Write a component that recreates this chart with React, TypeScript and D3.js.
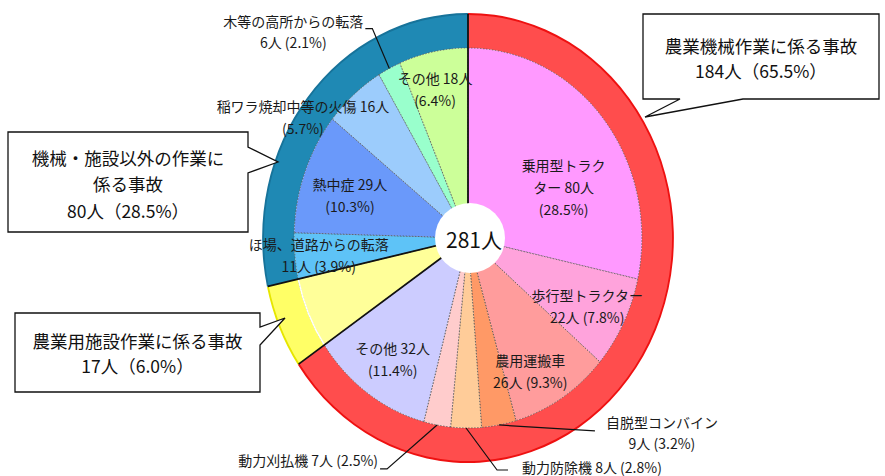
import React from 'react';
import * as d3 from 'd3';

// ---------------- data ----------------
const TOTAL = 281;
const groupNames = ['農業機械作業に係る事故', '農業用施設作業に係る事故', '機械・施設以外の作業に係る事故'];
const groupCounts = [184, 17, 80];
const groupColors = ['#FF4D4D', '#FFFF66', '#1F89B4'];
const groupEdge = ['#EE1111', '#E6E600', '#17739A'];

const sliceNames = [
  '乗用型トラクター', '歩行型トラクター', '農用運搬車', '自脱型コンバイン', '動力防除機', '動力刈払機', 'その他',
  '農業用施設作業',
  'ほ場、道路からの転落', '熱中症', '稲ワラ焼却中等の火傷', '木等の高所からの転落', 'その他',
];
const sliceCounts = [80, 22, 26, 9, 8, 7, 32, 17, 11, 29, 16, 6, 18];
const sliceColors = [
  '#FF99FF', '#FFA3DC', '#FF9C9C', '#FF9966', '#FFCC99', '#FFCCCC', '#CCCCFF',
  '#FFFF99',
  '#5EC3F7', '#6A99FA', '#9CCCFC', '#99FFCC', '#CCFF99',
];
// label lines: {n} = count, {p} = percent
const sliceLabels = [
  ['乗用型トラク', 'ター {n}人', '({p}%)'],
  ['歩行型トラクター', '{n}人 ({p}%)'],
  ['農用運搬車', '{n}人 ({p}%)'],
  ['自脱型コンバイン', '{n}人 ({p}%)'],
  ['動力防除機 {n}人 ({p}%)'],
  ['動力刈払機 {n}人 ({p}%)'],
  ['その他 {n}人', '({p}%)'],
  [],
  ['ほ場、道路からの転落', '{n}人 ({p}%)'],
  ['熱中症 {n}人', '({p}%)'],
  ['稲ワラ焼却中等の火傷 {n}人', '({p}%)'],
  ['木等の高所からの転落', '{n}人 ({p}%)'],
  ['その他 {n}人', '({p}%)'],
];

// ---------------- layout ----------------
const W = 885, H = 476;
const CX = 468, CY = 238;
const SX = 0.915;           // horizontal squash of the pie
const R_OUT = 224, R_IN = 190, R_LABEL = 120, R_HOLE = 35;
const LABEL_FS = 14;

// inner label nudges (px, relative to centroid at R_LABEL)
const innerNudge: Record<number, [number, number]> = {
  0: [10, 24], 1: [21, 14], 2: [3, 32], 6: [-12, 23],
  8: [-40, 6], 9: [-15, -2], 10: [-93, -30], 12: [-11, -31],
};
// leader-labelled slices: elbow/end offsets from start (at R_IN), text placement relative to end
const leaders: Record<number, { elbow: [number, number]; end: [number, number]; tx: number; ty: number; anchor: string; lh: number }> = {
  11: { elbow: [-17, -40], end: [-24, -40], tx: -72, ty: -8, anchor: 'middle', lh: 21 },
  3: { elbow: [96, 6], end: [96, 6], tx: 67, ty: -9, anchor: 'middle', lh: 21 },
  4: { elbow: [31, 42], end: [42, 42], tx: 14, ty: -3, anchor: 'start', lh: 21 },
  5: { elbow: [-50, 44], end: [-57, 44], tx: -2, ty: -9, anchor: 'end', lh: 21 },
};
// callouts: box [x0,y0,x1,y1], pointer edge & base & tip
const callouts = [
  { g: 0, box: [643, 14, 879, 99], edge: 'bottom', base: [743, 680], tip: [645, 117], ty: [45, 70] },
  { g: 2, box: [8, 132, 248, 232], edge: 'right', base: [147, 173], tip: [278, 162], ty: [157, 183, 210] },
  { g: 1, box: [15, 313, 260, 392], edge: 'right', base: [327, 345], tip: [285, 318], ty: [340, 365] },
];
const calloutText: string[][] = [
  ['農業機械作業に係る事故', '{n}人（{p}%）'],
  ['農業用施設作業に係る事故', '{n}人（{p}%）'],
  ['機械・施設以外の作業に', '係る事故', '{n}人（{p}%）'],
];

const FONT = '"Noto Sans CJK JP", "Noto Sans", sans-serif';

const fill = (s: string, n: number) =>
  s.replace('{n}', String(n)).replace('{p}', ((n / TOTAL) * 100).toFixed(1));

const polar = (a: number, r: number): [number, number] => [CX + SX * r * Math.sin(a), CY - r * Math.cos(a)];

export default function App() {
  const pie = d3.pie<number>().sort(null).value((d) => d);
  const slices = pie(sliceCounts);
  const groups = pie(groupCounts);
  const innerArc = d3.arc<d3.PieArcDatum<number>>().innerRadius(0).outerRadius(R_IN);
  const ringArc = d3.arc<d3.PieArcDatum<number>>().innerRadius(R_IN).outerRadius(R_OUT);
  const outerEdge = d3.arc<d3.PieArcDatum<number>>().innerRadius(R_OUT - 1).outerRadius(R_OUT + 1);

  const boundaryAngles = groups.map((g) => g.startAngle);
  const yellowInner = d3.arc()({
    innerRadius: R_IN - 0.8, outerRadius: R_IN + 0.8,
    startAngle: groups[1].startAngle, endAngle: groups[1].endAngle,
  } as any);

  const calloutPath = (c: any) => {
    const [x0, y0, x1, y1] = c.box;
    if (c.edge === 'bottom') {
      return `M${x0},${y0}H${x1}V${y1}H${c.base[0]}L${c.tip[0]},${c.tip[1]}L${c.base[1]},${y1}H${x0}Z`;
    }
    return `M${x0},${y0}H${x1}V${c.base[0]}L${c.tip[0]},${c.tip[1]}L${x1},${c.base[1]}V${y1}H${x0}Z`;
  };

  return (
    <svg width={W} height={H} style={{ position: 'absolute', left: 0, top: 0, background: '#fff' }} fontFamily={FONT}>
      <rect width={W} height={H} fill="#fff" />
      <g transform={`translate(${CX},${CY}) scale(${SX},1)`}>
        {groups.map((g, i) => (
          <path key={'r' + i} d={ringArc(g) || ''} fill={groupColors[i]} />
        ))}
        {groups.map((g, i) => (
          <path key={'e' + i} d={outerEdge(g) || ''} fill={groupEdge[i]} />
        ))}
        {slices.map((s, i) => (
          <path key={'s' + i} d={innerArc(s) || ''} fill={sliceColors[i]}
            stroke="#555" strokeWidth={0.8} strokeDasharray="1.5,1.5" vectorEffect="non-scaling-stroke" />
        ))}
        <path d={yellowInner || ''} fill="#fff" />
      </g>
      {boundaryAngles.map((a, i) => {
        const [x, y] = polar(a, R_OUT);
        return <line key={'b' + i} x1={CX} y1={CY} x2={x} y2={y} stroke="#111" strokeWidth={1.8} />;
      })}
      <circle cx={CX + 2} cy={CY} r={R_HOLE} fill="#fff" />
      <text x={CX + 6} y={CY + 1} textAnchor="middle" dominantBaseline="central" fontSize={21} fill="#111">281人</text>

      {slices.map((s, i) => {
        const nudge = innerNudge[i];
        if (!nudge) return null;
        const mid = (s.startAngle + s.endAngle) / 2;
        const [px, py] = polar(mid, R_LABEL);
        const lines = sliceLabels[i];
        const lh = 22;
        const cx = px + nudge[0];
        const cy = py + nudge[1];
        return (
          <g key={'l' + i}>
            {lines.map((ln, j) => (
              <text key={j} x={cx} y={cy + (j - (lines.length - 1) / 2) * lh} textAnchor="middle"
                dominantBaseline="central" fontSize={LABEL_FS} fill="#1a1a1a">{fill(ln, sliceCounts[i])}</text>
            ))}
          </g>
        );
      })}

      {slices.map((s, i) => {
        const L = leaders[i];
        if (!L) return null;
        const mid = (s.startAngle + s.endAngle) / 2;
        const [sx, sy] = polar(mid, R_IN);
        const ex = sx + L.end[0], ey = sy + L.end[1];
        const lines = sliceLabels[i];
        return (
          <g key={'ld' + i}>
            <polyline points={`${sx},${sy} ${sx + L.elbow[0]},${sy + L.elbow[1]} ${ex},${ey}`} fill="none" stroke="#111" strokeWidth={1.2} />
            {lines.map((ln, j) => (
              <text key={j} x={ex + L.tx} y={ey + L.ty + j * L.lh} textAnchor={L.anchor as any}
                dominantBaseline="central" fontSize={LABEL_FS} fill="#1a1a1a">{fill(ln, sliceCounts[i])}</text>
            ))}
          </g>
        );
      })}

      {callouts.map((c, k) => {
        const cx = (c.box[0] + c.box[2]) / 2;
        return (
          <g key={'c' + k}>
            <path d={calloutPath(c)} fill="#fff" stroke="#111" strokeWidth={1.3} />
            {calloutText[c.g].map((ln, j) => (
              <text key={j} x={cx} y={c.ty[j]} textAnchor="middle" dominantBaseline="central" fontSize={17.5} fill="#111">
                {fill(ln, groupCounts[c.g])}
              </text>
            ))}
          </g>
        );
      })}
    </svg>
  );
}
